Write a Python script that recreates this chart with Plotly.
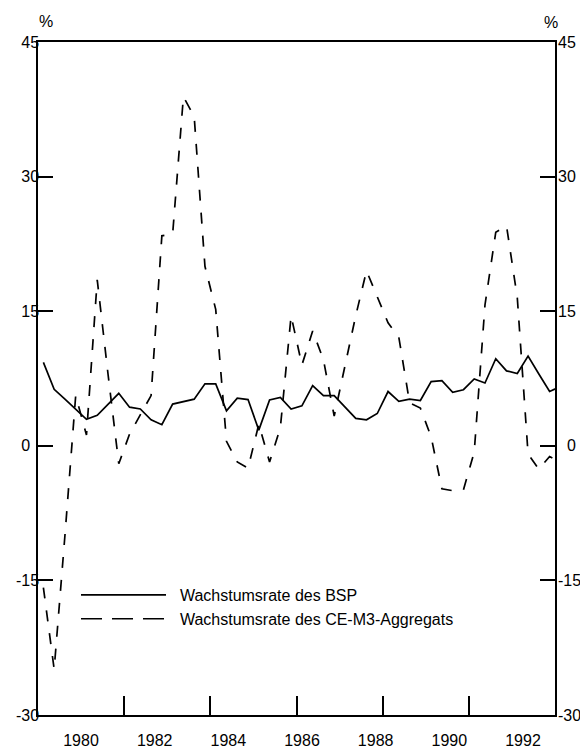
import plotly.graph_objects as go

# Quarterly observations 1980Q1 ... 1992Q1
years = [1980, 1981, 1982, 1983, 1984, 1985, 1986, 1987, 1988, 1989, 1990, 1991, 1992]
quarter_labels = [f"{y}Q{q}" for y in years for q in (1, 2, 3, 4)][:49]

# Wachstumsrate des BSP (%)
bsp = [9.3, 6.3, 5.2, 4.1, 2.95, 3.4, 4.65, 5.85, 4.3, 4.1,
       2.9, 2.35, 4.65, 4.9, 5.2, 6.9, 6.9, 3.9, 5.3, 5.15,
       1.75, 5.1, 5.4, 4.1, 4.45, 6.7, 5.6, 5.6, 4.35, 3.05,
       2.9, 3.6, 6.05, 4.95, 5.2, 5.05, 7.15, 7.25, 5.95, 6.25,
       7.45, 7.0, 9.7, 8.35, 8.05, 10.0, 8.0, 6.05, 6.6]

# Wachstumsrate des CE-M3-Aggregats (%)
m3 = [-15.8, -24.9, -10.0, 5.6, 1.2, 18.5, 8.0, -2.0, 1.3, 3.4,
      5.6, 23.4, 23.6, 38.9, 36.7, 20.0, 15.2, 0.5, -1.8, -2.5,
      2.4, -1.8, 2.0, 14.5, 9.0, 12.8, 9.6, 3.3, 8.8, 14.5,
      19.5, 16.5, 13.7, 12.1, 4.8, 4.2, 1.0, -4.8, -5.0, -4.9,
      -0.7, 15.7, 23.8, 24.5, 16.5, -0.9, -2.6, -1.2, -1.8]

y_ticks = [-30, -15, 0, 15, 30, 45]
y_ticktext_left = ["-30", "-15", "0\u2007", "15", "30", "45"]
y_ticktext_right = ["-30", "-15", "\u20070", "15", "30", "45"]
x_labels = [1980, 1982, 1984, 1986, 1988, 1990, 1992]
x_tickmarks = [1982, 1984, 1986, 1988, 1990]

name_bsp = "Wachstumsrate des BSP"
name_m3 = "Wachstumsrate des CE-M3-Aggregats"

# position of each quarter (middle of the quarter, in years)
xpos = [int(s[:4]) + (int(s[-1]) - 0.5) / 4 for s in quarter_labels]

FONT = "Liberation Sans, Arial, sans-serif"
GAP = "\u00a0\u00a0"  # space between key line and key text

fig = go.Figure()
fig.add_trace(go.Scatter(x=xpos, y=bsp, mode="lines", name=name_bsp,
                         line=dict(color="black", width=1.7), showlegend=False))
fig.add_trace(go.Scatter(x=xpos, y=m3, mode="lines", name=name_m3,
                         line=dict(color="black", width=1.7, dash="11px,12px"),
                         showlegend=False))
# legend entries (long dashes as in the printed key)
fig.add_trace(go.Scatter(x=[None], y=[None], mode="lines", name=GAP + name_bsp,
                         line=dict(color="black", width=1.6),
                         xaxis="x2", yaxis="y2"))
fig.add_trace(go.Scatter(x=[None], y=[None], mode="lines", name=GAP + name_m3,
                         line=dict(color="black", width=1.6, dash="21px,10px"),
                         xaxis="x2", yaxis="y2"))

axis_common = dict(showgrid=False, zeroline=False, automargin=False)

# the page places the figure 8 px from the top-left corner of the window
fig.update_layout(
    width=580, height=741,
    margin=dict(l=30, r=33, t=34, b=34, autoexpand=False),
    paper_bgcolor="white", plot_bgcolor="white",
    font=dict(family=FONT, size=16, color="black"),
    xaxis=dict(range=[1980, 1992], tickvals=x_tickmarks, ticks="inside",
               ticklen=19, tickwidth=1.5, tickcolor="black",
               showticklabels=False, showline=True, linecolor="black",
               linewidth=1.5, mirror=True, **axis_common),
    xaxis2=dict(overlaying="x", anchor="y", side="bottom",
                range=[1978.832, 1992.869], tickvals=x_labels,
                ticktext=[str(v) for v in x_labels], ticks="",
                showline=False, ticklabelstandoff=14,
                tickfont=dict(size=16), **axis_common),
    yaxis=dict(range=[-30, 45], tickvals=y_ticks, ticktext=y_ticktext_left,
               ticks="inside", ticklen=15, tickwidth=1.5, tickcolor="black",
               showline=True, linecolor="black", linewidth=1.5, mirror="ticks",
               ticklabelstandoff=-6,
               tickfont=dict(size=16), **axis_common),
    yaxis2=dict(overlaying="y", anchor="x", side="right", range=[-30, 45],
                tickvals=y_ticks, ticktext=y_ticktext_right, ticks="",
                showline=False, ticklabelstandoff=2,
                tickfont=dict(size=16), **axis_common),
    legend=dict(x=(76 - 38) / 517, y=(715 - 578) / 673, xanchor="left",
                yanchor="top", bgcolor="rgba(0,0,0,0)", itemwidth=85,
                font=dict(size=16, family=FONT), itemclick=False,
                itemdoubleclick=False),
    annotations=[
        dict(text="%", xref="paper", yref="paper", x=(46 - 38) / 517,
             y=(715 - 21) / 673, showarrow=False, xanchor="center",
             yanchor="middle", font=dict(size=16)),
        dict(text="%", xref="paper", yref="paper", x=(551 - 38) / 517,
             y=(715 - 22) / 673, showarrow=False, xanchor="center",
             yanchor="middle", font=dict(size=16)),
    ],
    showlegend=True,
)

fig.write_html("out.html")
